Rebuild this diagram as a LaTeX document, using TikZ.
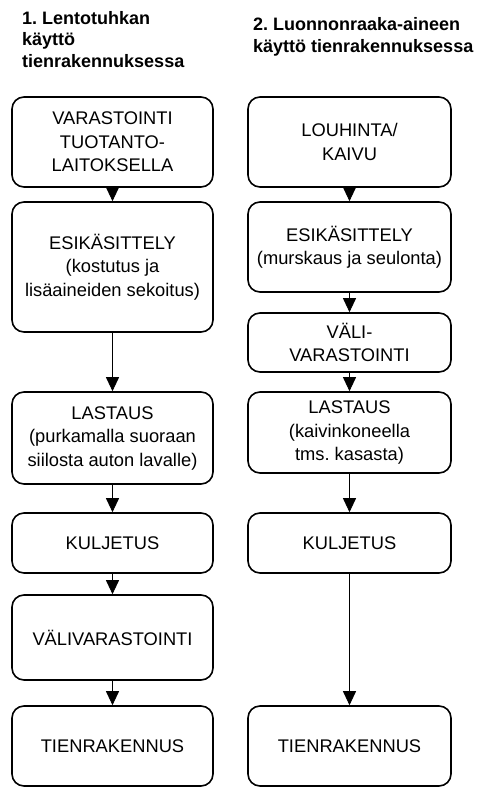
\documentclass[tikz,border=0pt]{standalone}
\usepackage{fontspec}
\setmainfont{Liberation Sans}
\usetikzlibrary{arrows.meta}
\frenchspacing
\begin{document}
\begin{tikzpicture}[x=1pt,y=-1pt,
 box/.style={draw, line width=1.6pt, rounded corners=12pt, align=center, inner sep=0pt, font=\fontsize{18.3}{23.5}\selectfont\frenchspacing},
 lbox/.style={box, minimum width=201pt},
 rbox/.style={box, minimum width=203pt},
 conn/.style={line width=0.9pt, -{Triangle[width=13pt,length=14pt]}},
 title/.style={align=left, anchor=base west, inner sep=0pt, font=\fontsize{18}{21.5}\selectfont\bfseries\frenchspacing}]
\useasboundingbox (0,0) rectangle (483,787);
% titles (base anchor = last line baseline)
\node[title] (t1) at (22,67) {1. Lentotuhkan\\käyttö\\tienrakennuksessa};
\node[title] (t2) at (253,52) {2. Luonnonraaka-aineen\\käyttö tienrakennuksessa};
% left column
\node[lbox, minimum height=90pt] (l1) at (112.5,142) {VARASTOINTI\\TUOTANTO-\\LAITOKSELLA};
\node[lbox, minimum height=130pt] (l2) at (112.5,267) {ESIKÄSITTELY\\(kostutus ja\\lisäaineiden sekoitus)};
\node[lbox, minimum height=92pt] (l3) at (112.5,438) {LASTAUS\\(purkamalla suoraan\\siilosta auton lavalle)};
\node[lbox, minimum height=60pt] (l4) at (112.5,543) {KULJETUS};
\node[lbox, minimum height=85pt] (l5) at (112.5,637.5) {VÄLIVARASTOINTI};
\node[lbox, minimum height=80pt] (l6) at (112.5,746) {TIENRAKENNUS};
% right column
\node[rbox, minimum height=90pt] (r1) at (349.5,142) {LOUHINTA/\\KAIVU};
\node[rbox, minimum height=90pt] (r2) at (349.5,247) {ESIKÄSITTELY\\(murskaus ja seulonta)};
\node[rbox, minimum height=59pt] (r3) at (349.5,342.5) {VÄLI-\\VARASTOINTI};
\node[rbox, minimum height=81pt] (r4) at (349.5,432.5) {LASTAUS\\(kaivinkoneella\\tms. kasasta)};
\node[rbox, minimum height=60pt] (r5) at (349.5,543) {KULJETUS};
\node[rbox, minimum height=80pt] (r6) at (349.5,746) {TIENRAKENNUS};
% connectors
\draw[conn] (l1) -- (l2);
\draw[conn] (l2) -- (l3);
\draw[conn] (l3) -- (l4);
\draw[conn] (l4) -- (l5);
\draw[conn] (l5) -- (l6);
\draw[conn] (r1) -- (r2);
\draw[conn] (r2) -- (r3);
\draw[conn] (r3) -- (r4);
\draw[conn] (r4) -- (r5);
\draw[conn] (r5) -- (r6);
\end{tikzpicture}
\end{document}
